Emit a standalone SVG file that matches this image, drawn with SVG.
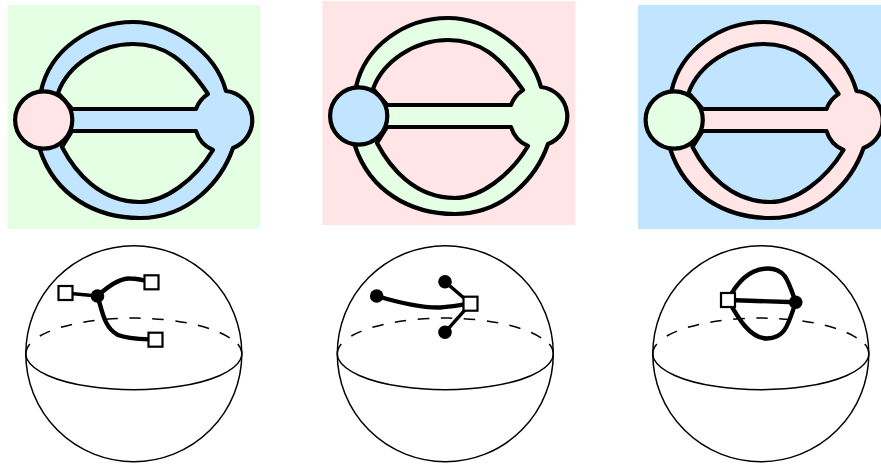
<svg xmlns="http://www.w3.org/2000/svg" width="881" height="464" viewBox="0 0 881 464">
<style>
.g{fill:#e5ffe5}.p{fill:#ffe5e5}.b{fill:#c2e5ff}
.s{stroke:#000;stroke-width:4.2;stroke-linejoin:round}
.sphere{fill:none;stroke:#000;stroke-width:1.5}
.dash{stroke-dasharray:11.5 11.5}
.e{fill:none;stroke:#000;stroke-width:4.4}
.t{fill:none;stroke:#000;stroke-width:3.4}
.dot{fill:#000}
.sq{fill:#fff;stroke:#000;stroke-width:2.2}
</style>
<defs>
<path id="outer" d="M41,91C50,50 90,22 133,22C170,22 215,50 226,91A29.5,29.5 0 0 1 233,148C222,180 190,218 140,218C95,218 55,195 40,150Z"/>
<path id="lobeTop" d="M58,93C68,65 100,44 133,44C165,44 185,60 208,94A30,30 0 0 0 196,109L72,109Z"/>
<path id="lobeBottom" d="M62,147C75,172 100,202 140,202C165,202 195,180 213,150A30,30 0 0 1 196,131L72,131Z"/>
<g id="globe">
<circle class="sphere" cx="0" cy="353.7" r="108"/>
<path class="sphere" d="M-104,344A108,36 0 1 0 104,344"/>
<path class="sphere dash" d="M-94,336A108,36 0 0 1 96,338"/>
</g>
</defs>
<g id="panel-1">
<rect class="g" x="7.3" y="5" width="253" height="224"/>
<g id="region-1">
<use href="#outer" class="b s"/>
<use href="#lobeTop" class="g s"/>
<use href="#lobeBottom" class="g s"/>
</g>
<circle id="vertex-1" class="p s" cx="43.7" cy="120" r="28.6"/>
</g>
<g id="panel-2">
<rect class="p" x="322.3" y="1" width="253" height="224"/>
<g id="region-2" transform="translate(315,-4)">
<use href="#outer" class="g s"/>
<use href="#lobeTop" class="p s"/>
<use href="#lobeBottom" class="p s"/>
<circle id="vertex-2" class="b s" cx="43.7" cy="120" r="28.6"/>
</g>
</g>
<g id="panel-3">
<rect class="b" x="638" y="5" width="243" height="224"/>
<g id="region-3" transform="translate(630.5,0)">
<use href="#outer" class="p s"/>
<use href="#lobeTop" class="b s"/>
<use href="#lobeBottom" class="b s"/>
<circle id="vertex-3" class="g s" cx="43.7" cy="120" r="28.6"/>
</g>
</g>
<use href="#globe" x="133.8"/>
<use href="#globe" x="445.3"/>
<use href="#globe" x="760.8"/>
<g id="connectors">
<path class="t" d="M65.5,293L97.5,296"/>
<path class="e" d="M97.5,296C104,290 118,278 130,278.5C137,278.500 142,279.500 151.5,282.300"/>
<path class="e" d="M97.5,296C102,310 104,328 118,335C128,339 142,339 155.5,339.700"/>
<path class="e" d="M376.700,296C400,303 420,308 440,307.500C450,307 460,305 470.500,303.700"/>
<path class="t" d="M445,281.700L470.500,303.700L445,332.300"/>
<path class="e" d="M728,300L795.700,302.300"/>
<path class="e" d="M728,300C738,280 752,268.500 768,268.500C785,268.500 788,280 795.700,302.300"/>
<path class="e" d="M728,300C738,318 750,338.500 767,338.500C785,338.500 788,325 795.700,302.300"/>
</g>
<g id="node-a1"><rect class="sq" x="58.500" y="286" width="14" height="14"/></g>
<g id="node-a2"><circle class="dot" cx="97.500" cy="296" r="6.800"/></g>
<g id="node-a3"><rect class="sq" x="144.500" y="275.300" width="14" height="14"/></g>
<g id="node-a4"><rect class="sq" x="148.500" y="332.700" width="14" height="14"/></g>
<g id="node-b1"><circle class="dot" cx="376.700" cy="296" r="6.800"/></g>
<g id="node-b2"><circle class="dot" cx="445" cy="281.700" r="6.800"/></g>
<g id="node-b3"><circle class="dot" cx="445" cy="332.300" r="6.800"/></g>
<g id="node-b4"><rect class="sq" x="463.500" y="296.700" width="14" height="14"/></g>
<g id="node-c1"><rect class="sq" x="721" y="293" width="14" height="14"/></g>
<g id="node-c2"><circle class="dot" cx="795.700" cy="302.300" r="6.800"/></g>
</svg>
